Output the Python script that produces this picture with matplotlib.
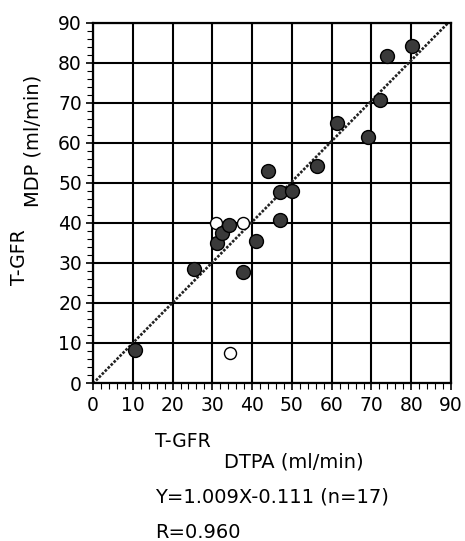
import numpy as np
import matplotlib
matplotlib.use('agg')
from matplotlib import pyplot as plt
from matplotlib.ticker import MultipleLocator

# filled circles (n=17)
dtpa = [10.5, 25.3, 31.2, 32.5, 34.1, 37.7, 41.0, 44.1, 47.1, 47.1, 50.0,
        56.3, 61.3, 69.0, 72.1, 73.9, 80.3]
mdp = [8.3, 28.4, 34.9, 37.6, 39.5, 27.8, 35.6, 52.9, 40.6, 47.8, 48.0,
       54.1, 64.9, 61.5, 70.8, 81.8, 84.1]

# open circles (excluded)
dtpa_open = [31.0, 37.6, 34.5]
mdp_open = [39.9, 39.9, 7.5]

slope = 1.009
intercept = -0.111
ticks = list(range(0, 91, 10))

plt.rcParams['font.family'] = ['DejaVu Sans']

fig = plt.figure(figsize=(4.65, 5.41), dpi=100)
ax = fig.add_axes([0.2, 0.292, 0.77, 0.666])

ax.set_xlim(0, 90)
ax.set_ylim(0, 90)
ax.set_xticks(ticks)
ax.set_yticks(ticks)
ax.xaxis.set_minor_locator(MultipleLocator(2))
ax.yaxis.set_minor_locator(MultipleLocator(2))
ax.grid(True, which='major', color='black', linewidth=1.5)
ax.set_axisbelow(True)
for s in ax.spines.values():
    s.set_linewidth(1.6)
ax.tick_params(which='major', direction='inout', length=10, width=1.2,
               labelsize=13.5)
ax.tick_params(axis='x', which='major', pad=4)
ax.tick_params(axis='y', which='major', pad=3)
ax.tick_params(which='minor', length=4, width=0.8)

xl = np.array([0, 90])
ax.plot(xl, slope * xl + intercept, linestyle=(0, (1, 0.6)), color='#222222',
        linewidth=1.9, zorder=2)

ax.scatter(dtpa_open, mdp_open, s=75, facecolor='white', edgecolor='black',
           linewidth=1.0, zorder=3)
ax.scatter(dtpa, mdp, s=100, facecolor='#3a3a3a', edgecolor='black',
           linewidth=1.0, zorder=4)

# axis labels with shifted subscript-like parts
fig.text(0.333, 0.183, "T-GFR", fontsize=13.5, ha='left', va='center')
fig.text(0.482, 0.146, "DTPA (ml/min)", fontsize=14, ha='left', va='center')
fig.text(0.043, 0.525, "T-GFR", fontsize=13.5, rotation=90, ha='center', va='center')
fig.text(0.071, 0.739, "MDP (ml/min)", fontsize=14, rotation=90, ha='center', va='center')

fig.text(0.333, 0.081, "Y=1.009X-0.111 (n=17)", fontsize=14, ha='left', va='center')
fig.text(0.333, 0.015, "R=0.960", fontsize=14, ha='left', va='center')

plt.savefig("out.png", dpi=100)
